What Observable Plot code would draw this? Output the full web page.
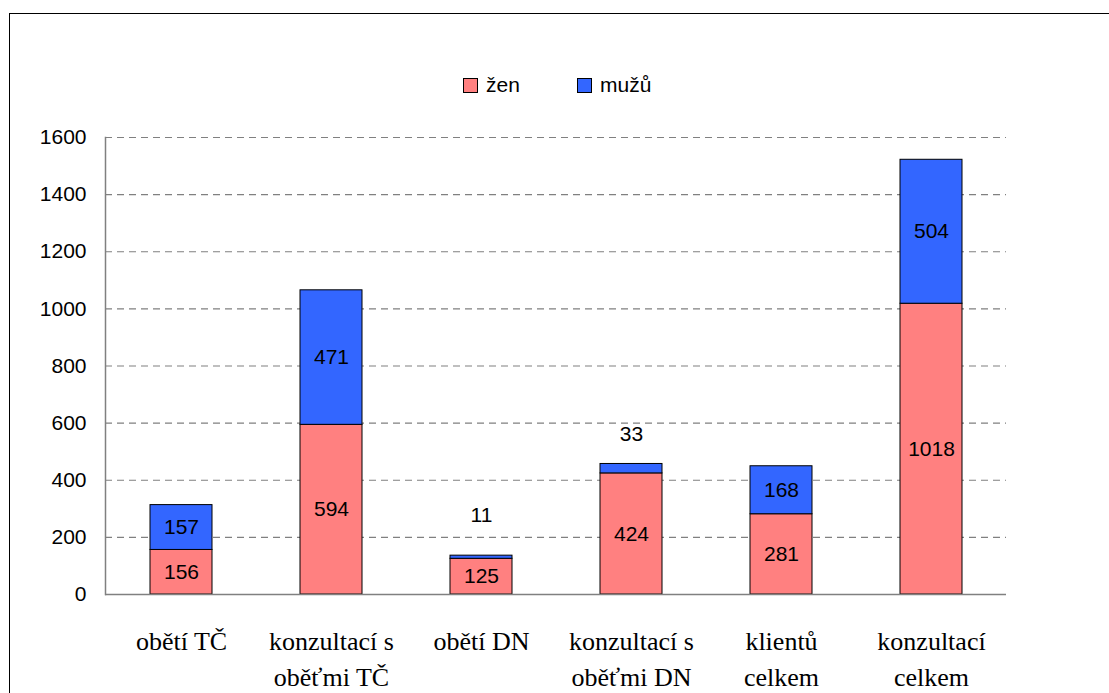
<!DOCTYPE html>
<html>
<head>
<meta charset="utf-8">
<script src="https://cdn.jsdelivr.net/npm/d3@7"></script>
<script src="https://cdn.jsdelivr.net/npm/@observablehq/plot@0.6"></script>
<style>
  html, body { margin: 0; padding: 0; background: #fff; overflow: hidden; }
  #wrap { position: relative; width: 1109px; height: 693px; }
  #border { position: absolute; left: 9px; top: 13px; width: 1200px; height: 800px;
            border-left: 1.5px solid #000; border-top: 1.5px solid #000; pointer-events: none; }
  .leg { position: absolute; top: 73px; display: flex; align-items: center;
         font-family: "Liberation Sans", Arial, sans-serif; font-size: 21px; color: #000; }
  .sw { width: 13px; height: 13px; border: 1px solid #000; margin-right: 8px; }
  #chart { position: absolute; left: 0; top: 0; }
</style>
</head>
<body>
<div id="wrap">
  <div id="chart"></div>
  <div id="border"></div>
  <div id="legend"></div>
</div>
<script>
const categories = ["obětí TČ", "konzultací s\noběťmi TČ", "obětí DN", "konzultací s\noběťmi DN", "klientů\ncelkem", "konzultací\ncelkem"];
const series = ["žen", "mužů"];
const zen = [156, 594, 125, 424, 281, 1018];
const muzu = [157, 471, 11, 33, 168, 504];
const colors = ["#FF8080", "#3366FF"];
const yTicks = [0, 200, 400, 600, 800, 1000, 1200, 1400, 1600];

const data = [];
categories.forEach((c, i) => {
  data.push({cat: c, sex: series[0], value: zen[i]});
  data.push({cat: c, sex: series[1], value: muzu[i]});
});
const small = d => d.value < 60;
const SANS = "Liberation Sans, Arial, sans-serif";
const SERIF = "'Liberation Serif', 'Times New Roman', Times, 'DejaVu Serif', serif";

const chart = Plot.plot({
  width: 1109,
  height: 693,
  marginLeft: 105,
  marginRight: 103,
  marginTop: 137,
  marginBottom: 99,
  style: {background: "transparent", fontFamily: SANS},
  x: {domain: categories, paddingInner: 0.59, paddingOuter: 0.295, label: null, axis: null},
  y: {domain: [0, 1600], label: null},
  color: {domain: series, range: colors},
  marks: [
    Plot.gridY(yTicks.filter(t => t > 0), {stroke: "#808080", strokeOpacity: 1, strokeDasharray: "7,5", strokeWidth: 1.2}),
    Plot.barY(data, Plot.stackY({x: "cat", y: "value", fill: "sex", order: series, stroke: "#000", strokeWidth: 1})),
    Plot.ruleY([0], {stroke: "#808080", strokeWidth: 1.5}),
    Plot.frame({anchor: "left", stroke: "#808080", strokeWidth: 1.5}),
    Plot.text(data, Plot.stackY({x: "cat", y: "value", z: "sex", order: series, text: d => small(d) ? "" : String(d.value),
      fontSize: 21, fill: "#000", fontFamily: SANS})),
    Plot.text(data, Plot.stackY2({x: "cat", y: "value", z: "sex", order: series, text: d => small(d) && d.value < 20 ? String(d.value) : "",
      fontSize: 21, fill: "#000", dy: -40, fontFamily: SANS})),
    Plot.text(data, Plot.stackY2({x: "cat", y: "value", z: "sex", order: series, text: d => small(d) && d.value >= 20 ? String(d.value) : "",
      fontSize: 21, fill: "#000", dy: -30, fontFamily: SANS})),
    Plot.axisY({ticks: yTicks, tickFormat: d => String(d), tickSize: 0, tickPadding: 19, fontSize: 21, fill: "#000", fontFamily: SANS}),
    Plot.text(categories, {x: d => d, text: d => d, frameAnchor: "bottom", lineAnchor: "top", dy: 31,
      fontSize: 26, lineHeight: 1.35, fill: "#000", fontFamily: SERIF})
  ]
});
document.getElementById("chart").appendChild(chart);

const legend = document.getElementById("legend");
const legLeft = [463, 577];
series.forEach((s, i) => {
  const item = document.createElement("div");
  item.className = "leg";
  item.style.left = legLeft[i] + "px";
  const sw = document.createElement("div");
  sw.className = "sw";
  sw.style.background = colors[i];
  const t = document.createElement("span");
  t.textContent = s;
  item.appendChild(sw);
  item.appendChild(t);
  legend.appendChild(item);
});
</script>
</body>
</html>
